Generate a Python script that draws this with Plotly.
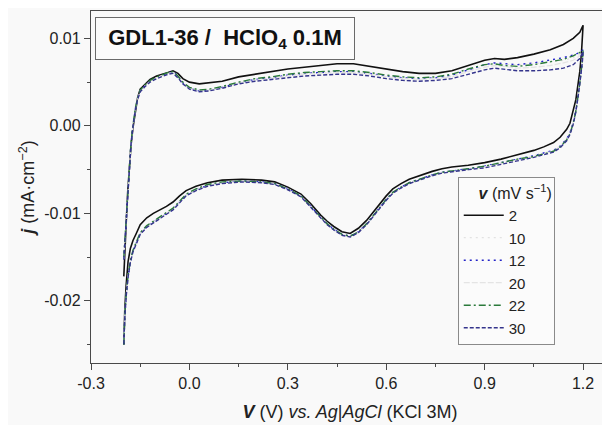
import plotly.graph_objects as go

# potential grids (V vs Ag|AgCl) for the anodic (forward) and cathodic (reverse) sweeps
V_fwd = [-0.200, -0.198, -0.195, -0.192, -0.188, -0.183, -0.178, -0.172, -0.165, -0.158,
         -0.150, -0.135, -0.120, -0.100, -0.080, -0.065, -0.050, -0.035, -0.020, 0.000,
         0.030, 0.060, 0.100, 0.150, 0.200, 0.250, 0.300, 0.350, 0.400, 0.450,
         0.500, 0.550, 0.600, 0.650, 0.700, 0.750, 0.800, 0.850, 0.900, 0.930,
         0.960, 1.000, 1.050, 1.100, 1.140, 1.170, 1.190, 1.200]
V_rev = [1.200, 1.198, 1.195, 1.190, 1.185, 1.178, 1.170, 1.160, 1.150, 1.130,
         1.110, 1.080, 1.050, 1.000, 0.950, 0.900, 0.850, 0.800, 0.770, 0.740,
         0.700, 0.670, 0.645, 0.620, 0.600, 0.580, 0.560, 0.540, 0.515, 0.490,
         0.465, 0.440, 0.420, 0.400, 0.370, 0.340, 0.300, 0.260, 0.220, 0.160,
         0.100, 0.055, 0.020, -0.010, -0.030, -0.050, -0.070, -0.090, -0.110, -0.130,
         -0.150, -0.162, -0.172, -0.180, -0.187, -0.193, -0.197, -0.200]

# current density j (mA cm-2), one list per scan rate
j2_fwd = [-0.0172, -0.0150, -0.0125, -0.0105, -0.0075, -0.0045, -0.0022, -0.0002, 0.0018, 0.0032,
          0.0042, 0.0048, 0.0053, 0.0057, 0.0059, 0.0061, 0.0063, 0.0060, 0.0054, 0.0050,
          0.0048, 0.0049, 0.0051, 0.0056, 0.0059, 0.0062, 0.0065, 0.0067, 0.0069, 0.0071,
          0.0071, 0.0068, 0.0065, 0.0062, 0.0060, 0.0060, 0.0063, 0.0069, 0.0075, 0.0077,
          0.0076, 0.0078, 0.0082, 0.0087, 0.0093, 0.0100, 0.0107, 0.0115]
j2_rev = [0.0115, 0.0100, 0.0083, 0.0062, 0.0046, 0.0030, 0.0018, 0.0003, -0.0004, -0.0013,
          -0.0019, -0.0024, -0.0028, -0.0033, -0.0038, -0.0042, -0.0045, -0.0047, -0.0049, -0.0052,
          -0.0057, -0.0061, -0.0066, -0.0072, -0.0080, -0.0089, -0.0099, -0.0108, -0.0117, -0.0123,
          -0.0121, -0.0115, -0.0109, -0.0102, -0.0089, -0.0078, -0.0070, -0.0064, -0.0062, -0.0061,
          -0.0062, -0.0065, -0.0069, -0.0074, -0.0080, -0.0087, -0.0092, -0.0096, -0.0100, -0.0105,
          -0.0113, -0.0123, -0.0131, -0.0140, -0.0155, -0.0183, -0.0210, -0.0250]

j10_fwd = [-0.0151, -0.0139, -0.0118, -0.0100, -0.0072, -0.0043, -0.0020, 0.0000, 0.0019, 0.0031,
           0.0040, 0.0046, 0.0051, 0.0055, 0.0058, 0.0060, 0.0061, 0.0056, 0.0049, 0.0043,
           0.0040, 0.0041, 0.0044, 0.0049, 0.0052, 0.0055, 0.0058, 0.0060, 0.0061, 0.0062,
           0.0061, 0.0059, 0.0056, 0.0054, 0.0053, 0.0054, 0.0057, 0.0063, 0.0069, 0.0071,
           0.0070, 0.0070, 0.0071, 0.0073, 0.0075, 0.0078, 0.0082, 0.0086]
j10_rev = [0.0086, 0.0075, 0.0063, 0.0050, 0.0036, 0.0018, 0.0004, -0.0008, -0.0015, -0.0023,
           -0.0028, -0.0031, -0.0034, -0.0038, -0.0042, -0.0046, -0.0049, -0.0051, -0.0053, -0.0056,
           -0.0061, -0.0065, -0.0070, -0.0076, -0.0084, -0.0093, -0.0103, -0.0112, -0.0121, -0.0126,
           -0.0124, -0.0118, -0.0112, -0.0104, -0.0091, -0.0080, -0.0072, -0.0066, -0.0064, -0.0063,
           -0.0065, -0.0068, -0.0073, -0.0079, -0.0087, -0.0095, -0.0100, -0.0105, -0.0109, -0.0115,
           -0.0123, -0.0133, -0.0143, -0.0155, -0.0172, -0.0195, -0.0218, -0.0250]

j12_fwd = [-0.0152, -0.0140, -0.0118, -0.0100, -0.0072, -0.0043, -0.0020, 0.0000, 0.0019, 0.0031,
           0.0040, 0.0046, 0.0051, 0.0055, 0.0058, 0.0060, 0.0062, 0.0057, 0.0049, 0.0043,
           0.0040, 0.0041, 0.0044, 0.0049, 0.0053, 0.0055, 0.0058, 0.0060, 0.0061, 0.0062,
           0.0062, 0.0060, 0.0057, 0.0055, 0.0054, 0.0055, 0.0058, 0.0064, 0.0070, 0.0072,
           0.0071, 0.0070, 0.0072, 0.0075, 0.0078, 0.0081, 0.0084, 0.0087]
j12_rev = [0.0087, 0.0076, 0.0064, 0.0050, 0.0036, 0.0018, 0.0004, -0.0008, -0.0015, -0.0023,
           -0.0028, -0.0031, -0.0034, -0.0038, -0.0042, -0.0046, -0.0049, -0.0051, -0.0053, -0.0056,
           -0.0061, -0.0065, -0.0070, -0.0076, -0.0084, -0.0093, -0.0103, -0.0112, -0.0121, -0.0126,
           -0.0124, -0.0118, -0.0112, -0.0104, -0.0091, -0.0080, -0.0072, -0.0066, -0.0064, -0.0063,
           -0.0065, -0.0068, -0.0073, -0.0079, -0.0087, -0.0095, -0.0100, -0.0105, -0.0109, -0.0115,
           -0.0123, -0.0133, -0.0143, -0.0155, -0.0172, -0.0195, -0.0218, -0.0250]

j20_fwd = [-0.0152, -0.0140, -0.0118, -0.0100, -0.0072, -0.0043, -0.0020, 0.0000, 0.0019, 0.0031,
           0.0040, 0.0046, 0.0051, 0.0055, 0.0058, 0.0060, 0.0061, 0.0056, 0.0049, 0.0043,
           0.0040, 0.0041, 0.0044, 0.0049, 0.0052, 0.0054, 0.0057, 0.0059, 0.0060, 0.0061,
           0.0061, 0.0059, 0.0056, 0.0054, 0.0053, 0.0054, 0.0056, 0.0062, 0.0067, 0.0069,
           0.0068, 0.0066, 0.0067, 0.0069, 0.0072, 0.0075, 0.0080, 0.0085]
j20_rev = [0.0085, 0.0074, 0.0062, 0.0049, 0.0035, 0.0017, 0.0003, -0.0009, -0.0016, -0.0024,
           -0.0029, -0.0032, -0.0035, -0.0039, -0.0043, -0.0047, -0.0050, -0.0052, -0.0054, -0.0057,
           -0.0062, -0.0066, -0.0071, -0.0077, -0.0085, -0.0094, -0.0104, -0.0113, -0.0122, -0.0127,
           -0.0125, -0.0119, -0.0113, -0.0105, -0.0092, -0.0081, -0.0073, -0.0067, -0.0065, -0.0064,
           -0.0065, -0.0068, -0.0073, -0.0079, -0.0087, -0.0095, -0.0100, -0.0105, -0.0109, -0.0115,
           -0.0123, -0.0133, -0.0143, -0.0155, -0.0172, -0.0195, -0.0218, -0.0250]

j22_fwd = [-0.0150, -0.0138, -0.0117, -0.0099, -0.0071, -0.0042, -0.0019, 0.0001, 0.0020, 0.0032,
           0.0041, 0.0047, 0.0052, 0.0056, 0.0059, 0.0061, 0.0062, 0.0057, 0.0050, 0.0044,
           0.0041, 0.0042, 0.0045, 0.0050, 0.0054, 0.0056, 0.0059, 0.0061, 0.0062, 0.0063,
           0.0063, 0.0061, 0.0058, 0.0056, 0.0055, 0.0056, 0.0059, 0.0065, 0.0070, 0.0071,
           0.0069, 0.0068, 0.0070, 0.0073, 0.0076, 0.0080, 0.0084, 0.0086]
j22_rev = [0.0086, 0.0075, 0.0063, 0.0049, 0.0035, 0.0017, 0.0003, -0.0009, -0.0016, -0.0024,
           -0.0029, -0.0032, -0.0035, -0.0038, -0.0042, -0.0046, -0.0049, -0.0051, -0.0053, -0.0056,
           -0.0061, -0.0065, -0.0070, -0.0076, -0.0084, -0.0093, -0.0103, -0.0112, -0.0121, -0.0126,
           -0.0124, -0.0118, -0.0112, -0.0104, -0.0091, -0.0080, -0.0072, -0.0066, -0.0064, -0.0063,
           -0.0064, -0.0067, -0.0072, -0.0078, -0.0086, -0.0094, -0.0099, -0.0104, -0.0108, -0.0114,
           -0.0122, -0.0132, -0.0142, -0.0154, -0.0171, -0.0194, -0.0218, -0.0250]

j30_fwd = [-0.0153, -0.0141, -0.0119, -0.0101, -0.0073, -0.0044, -0.0021, -0.0001, 0.0018, 0.0030,
           0.0039, 0.0045, 0.0050, 0.0054, 0.0057, 0.0059, 0.0060, 0.0055, 0.0048, 0.0042,
           0.0039, 0.0040, 0.0043, 0.0048, 0.0051, 0.0053, 0.0055, 0.0057, 0.0058, 0.0059,
           0.0059, 0.0057, 0.0054, 0.0052, 0.0051, 0.0052, 0.0054, 0.0059, 0.0064, 0.0066,
           0.0065, 0.0063, 0.0063, 0.0064, 0.0066, 0.0070, 0.0077, 0.0085]
j30_rev = [0.0085, 0.0074, 0.0062, 0.0048, 0.0034, 0.0016, 0.0002, -0.0010, -0.0017, -0.0025,
           -0.0030, -0.0033, -0.0036, -0.0040, -0.0044, -0.0048, -0.0050, -0.0052, -0.0054, -0.0057,
           -0.0062, -0.0066, -0.0071, -0.0077, -0.0085, -0.0094, -0.0104, -0.0113, -0.0122, -0.0127,
           -0.0125, -0.0119, -0.0113, -0.0105, -0.0092, -0.0081, -0.0073, -0.0067, -0.0065, -0.0064,
           -0.0066, -0.0069, -0.0074, -0.0080, -0.0088, -0.0096, -0.0101, -0.0106, -0.0110, -0.0116,
           -0.0124, -0.0134, -0.0144, -0.0156, -0.0173, -0.0196, -0.0219, -0.0250]

scan_rates = ["2", "10", "12", "20", "22", "30"]
fwd_sets = [j2_fwd, j10_fwd, j12_fwd, j20_fwd, j22_fwd, j30_fwd]
rev_sets = [j2_rev, j10_rev, j12_rev, j20_rev, j22_rev, j30_rev]

x_ticks = [-0.3, 0.0, 0.3, 0.6, 0.9, 1.2]
x_ticktext = ["-0.3", "0.0", "0.3", "0.6", "0.9", "1.2"]
x_minor = [-0.15, 0.15, 0.45, 0.75, 1.05]
y_ticks = [-0.02, -0.01, 0.0, 0.01]
y_ticktext = ["-0.02", "-0.01", "0.00", "0.01"]
y_minor = [-0.025, -0.015, -0.005, 0.005]

styles = [
    dict(color="#111111", width=1.6, dash="solid"),
    dict(color="#e2e2e2", width=1.3, dash="2px,4px"),
    dict(color="#2323c8", width=1.4, dash="2px,4px"),
    dict(color="#e4e4e4", width=1.3, dash="6px,2px"),
    dict(color="#2b7a3b", width=1.4, dash="7px,3px,2px,3px"),
    dict(color="#34348c", width=1.4, dash="4px,2px"),
]

for f, r in zip(fwd_sets, rev_sets):
    assert len(f) == len(V_fwd) and len(r) == len(V_rev)

FONT = "Liberation Sans, Arial, sans-serif"
AX = "#4a4a4a"
BG = "#f9f9f9"

fig = go.Figure()
for name, jf, jr, st in zip(scan_rates, fwd_sets, rev_sets, styles):
    fig.add_trace(go.Scatter(
        x=V_fwd + V_rev, y=jf + jr, mode="lines", name=name,
        line=st,
    ))

# page body adds an 8px margin, so the figure is 8px smaller than the window
fig.update_layout(
    width=602, height=417,
    margin=dict(l=83, r=1, t=3, b=62),
    paper_bgcolor=BG, plot_bgcolor=BG,
    font=dict(family=FONT, size=16, color="#222222"),
    showlegend=True,
    legend=dict(
        x=0.708, y=0.528, xanchor="left", yanchor="top",
        bgcolor="#fbfbfb", bordercolor="#8a8a8a", borderwidth=1,
        font=dict(size=15, color="#222222"),
        title=dict(text="\u00a0\u00a0\u00a0\u00a0<b><i>v</i></b> (mV s<sup>−1</sup>)",
                   font=dict(size=16)),
        tracegroupgap=0, itemwidth=40,
    ),
    xaxis=dict(
        range=[-0.3, 1.279], showgrid=False, zeroline=False,
        showline=True, linecolor=AX, linewidth=1.3, mirror=True,
        tickmode="array", tickvals=x_ticks, ticktext=x_ticktext,
        ticks="outside", ticklen=6, tickcolor=AX, tickwidth=1.2,
        minor=dict(tickmode="array", tickvals=x_minor, ticks="outside", ticklen=3, tickcolor=AX),
        tickfont=dict(size=16),
        title=dict(text="<b><i>V</i></b> (V) <i>vs. Ag</i>|<i>AgCl</i> (KCl 3M)",
                   font=dict(size=18), standoff=14),
    ),
    xaxis2=dict(
        overlaying="x", side="top", anchor="y", range=[-0.3, 1.279],
        showgrid=False, zeroline=False, showticklabels=False,
        tickmode="array", tickvals=x_ticks,
        ticks="inside", ticklen=6, tickcolor=AX, tickwidth=1.2,
        minor=dict(tickmode="array", tickvals=x_minor, ticks="inside", ticklen=3, tickcolor=AX),
    ),
    yaxis=dict(
        range=[-0.0271, 0.01313], showgrid=False, zeroline=False,
        showline=True, linecolor=AX, linewidth=1.3, mirror=True,
        tickmode="array", tickvals=y_ticks, ticktext=y_ticktext,
        ticks="outside", ticklen=6, tickcolor=AX, tickwidth=1.2,
        minor=dict(tickmode="array", tickvals=y_minor, ticks="outside", ticklen=3, tickcolor=AX),
        tickfont=dict(size=16),
        title=dict(text="<b><i>j</i></b> (mA·cm<sup>−2</sup>)", font=dict(size=18), standoff=4),
    ),
    yaxis2=dict(
        overlaying="y", side="right", anchor="x", range=[-0.0271, 0.01313],
        showgrid=False, zeroline=False, showticklabels=False,
        tickmode="array", tickvals=y_ticks,
        ticks="inside", ticklen=6, tickcolor=AX, tickwidth=1.2,
    ),
    annotations=[dict(
        xref="paper", yref="paper", x=0.0077, y=0.983, xanchor="left", yanchor="top",
        text="<b>GDL1-36 /\u00a0 HClO<sub>4</sub> 0.1M</b>", showarrow=False,
        font=dict(size=22, color="#111111", family=FONT),
        width=244, height=27, align="center",
        bordercolor="#6a6a6a", borderwidth=1, borderpad=7, bgcolor="#fbfbfb",
    )],
)

fig.write_html("out.html")
